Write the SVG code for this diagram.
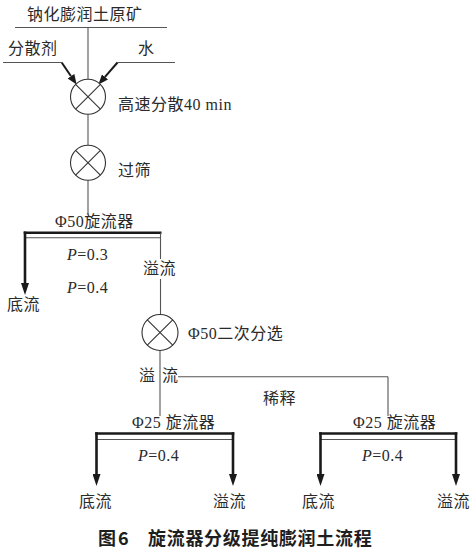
<svg xmlns="http://www.w3.org/2000/svg" width="474" height="554" viewBox="0 0 474 554">
<defs>
<style>
.t{font-family:"Liberation Serif","Noto Sans CJK SC",serif;font-size:16px;fill:#2a2a2a;letter-spacing:0.5px}
.i{font-style:italic}
.cap{font-family:"Noto Sans CJK SC","Liberation Sans",sans-serif;font-size:18px;font-weight:bold;fill:#1e1e1e;letter-spacing:0.7px}
.ln{stroke:#555;stroke-width:1.1;fill:none}
.tk{stroke:#1a1a1a;stroke-width:2.6;fill:none}
.tk2{stroke:#1a1a1a;stroke-width:2;fill:none}
.mix circle{fill:#fff;stroke:#333;stroke-width:1.1}
.mix line{stroke:#333;stroke-width:1.1}
</style>
<marker id="ah" viewBox="0 0 12 8" markerWidth="12" markerHeight="8" refX="0" refY="4" orient="auto" markerUnits="userSpaceOnUse">
<path d="M0,0 L12,4 L0,8 z" fill="#1a1a1a"/>
</marker>
<marker id="as" viewBox="0 0 10 8" markerWidth="10" markerHeight="8" refX="0" refY="4" orient="auto" markerUnits="userSpaceOnUse">
<path d="M0,0 L10,4 L0,8 z" fill="#1a1a1a"/>
</marker>
</defs>
<rect width="474" height="554" fill="#fff"/>

<g id="connectors">
<!-- feed -->
<line class="ln" x1="15" y1="27.5" x2="167" y2="27.5"/>
<line class="ln" x1="88" y1="27.5" x2="88" y2="79.2"/>
<line class="ln" x1="3" y1="62.5" x2="61.7" y2="62.5"/>
<line class="tk2" x1="61.7" y1="62.5" x2="71" y2="76.2" marker-end="url(#as)"/>
<line class="ln" x1="117.5" y1="62.5" x2="175" y2="62.5"/>
<line class="tk2" x1="117.5" y1="62.5" x2="105" y2="76.9" marker-end="url(#as)"/>
<line class="ln" x1="88" y1="114.2" x2="88" y2="145.2"/>
<line class="ln" x1="88" y1="180.2" x2="88" y2="214"/>
<!-- Φ50 cyclone -->
<line class="tk" x1="23.7" y1="232.8" x2="161.5" y2="232.8"/>
<line class="ln" x1="25" y1="237.8" x2="160.5" y2="237.8"/>
<line class="tk" x1="25" y1="231.5" x2="25" y2="283" marker-end="url(#ah)"/>
<line class="ln" x1="160.5" y1="232.8" x2="160.5" y2="259"/>
<line class="ln" x1="160.5" y1="279" x2="160.5" y2="314.5"/>
<!-- secondary -->
<line class="ln" x1="160" y1="350.5" x2="160" y2="416"/>
<line class="ln" x1="178" y1="376.7" x2="388" y2="376.7"/>
<line class="ln" x1="388" y1="376.7" x2="388" y2="416"/>
<!-- Φ25 left -->
<line class="tk" x1="95.2" y1="433.5" x2="234.3" y2="433.5"/>
<line class="ln" x1="96.5" y1="439.5" x2="233" y2="439.5"/>
<line class="tk" x1="96.5" y1="432.2" x2="96.5" y2="474" marker-end="url(#ah)"/>
<line class="tk" x1="233" y1="432.2" x2="233" y2="474" marker-end="url(#ah)"/>
<!-- Φ25 right -->
<line class="tk" x1="319.2" y1="433.5" x2="457.3" y2="433.5"/>
<line class="ln" x1="320.5" y1="439.5" x2="456" y2="439.5"/>
<line class="tk" x1="320.5" y1="432.2" x2="320.5" y2="474" marker-end="url(#ah)"/>
<line class="tk" x1="456" y1="432.2" x2="456" y2="474" marker-end="url(#ah)"/>
</g>

<g id="n-raw"><text class="t" x="27" y="19.5">钠化膨润土原矿</text></g>
<g id="n-dispersant"><text class="t" x="8" y="53.5">分散剂</text></g>
<g id="n-water"><text class="t" x="138" y="53.5">水</text></g>

<g id="n-disperse" class="mix">
<circle cx="88" cy="96.7" r="17.5"/>
<line x1="75.6" y1="84.3" x2="100.4" y2="109.1"/>
<line x1="100.4" y1="84.3" x2="75.6" y2="109.1"/>
<text class="t" x="118" y="110">高速分散40 min</text>
</g>

<g id="n-sieve" class="mix">
<circle cx="88" cy="162.7" r="17.5"/>
<line x1="75.6" y1="150.3" x2="100.4" y2="175.1"/>
<line x1="100.4" y1="150.3" x2="75.6" y2="175.1"/>
<text class="t" x="118" y="175.5">过筛</text>
</g>

<g id="n-cyclone50">
<text class="t" x="55" y="227">Φ50旋流器</text>
<text class="t" x="67" y="260"><tspan class="i">P</tspan>=0.3</text>
<text class="t" x="67" y="293"><tspan class="i">P</tspan>=0.4</text>
<text class="t" x="143" y="274">溢流</text>
<text class="t" x="7" y="310">底流</text>
</g>

<g id="n-secondary" class="mix">
<circle cx="160" cy="332.5" r="18"/>
<line x1="147.3" y1="319.8" x2="172.7" y2="345.2"/>
<line x1="172.7" y1="319.8" x2="147.3" y2="345.2"/>
<text class="t" x="188" y="339">Φ50二次分选</text>
</g>

<g id="n-overflow-split">
<text class="t" x="139" y="381">溢</text>
<text class="t" x="162" y="381">流</text>
<text class="t" x="263" y="404">稀释</text>
</g>

<g id="n-cyclone25a">
<text class="t" x="132" y="428">Φ25 旋流器</text>
<text class="t" x="138" y="461"><tspan class="i">P</tspan>=0.4</text>
<text class="t" x="79" y="507">底流</text>
<text class="t" x="213" y="507">溢流</text>
</g>

<g id="n-cyclone25b">
<text class="t" x="353" y="428">Φ25 旋流器</text>
<text class="t" x="362" y="461"><tspan class="i">P</tspan>=0.4</text>
<text class="t" x="302" y="507">底流</text>
<text class="t" x="437" y="507">溢流</text>
</g>

<g id="caption">
<text class="cap" x="98" y="545">图</text>
<text class="cap" x="118" y="545">6</text>
<text class="cap" x="148" y="545">旋流器分级提纯膨润土流程</text>
</g>
</svg>
